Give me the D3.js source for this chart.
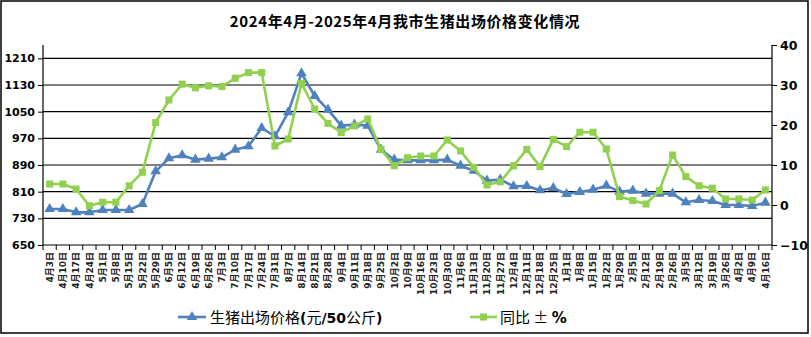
<!DOCTYPE html>
<html><head><meta charset="utf-8">
<script src="https://cdn.jsdelivr.net/npm/d3@7/dist/d3.min.js"></script>
<style>
html,body{margin:0;padding:0;background:#fff;}
svg{display:block;}
</style></head>
<body>
<svg id="c" width="811" height="337"></svg>
<script>
const dates = ["4月3日","4月10日","4月17日","4月24日","5月1日","5月8日","5月15日","5月22日","5月29日","6月5日","6月12日","6月19日","6月26日","7月3日","7月10日","7月17日","7月24日","7月31日","8月7日","8月14日","8月21日","8月28日","9月4日","9月11日","9月18日","9月25日","10月2日","10月9日","10月16日","10月23日","10月30日","11月6日","11月13日","11月20日","11月27日","12月4日","12月11日","12月18日","12月25日","1月1日","1月8日","1月15日","1月22日","1月29日","2月5日","2月12日","2月19日","2月26日","3月5日","3月12日","3月19日","3月26日","4月2日","4月9日","4月16日"];
const price = [758,758,748,748,755,755,755,773,871,910,919,906,909,913,936,946,1001,976,1048,1165,1097,1056,1008,1011,1008,936,906,904,904,904,906,888,873,843,846,826,827,814,821,803,809,816,828,810,813,804,804,804,778,785,782,770,770,767,777];
const yoy = [5.25,5.25,4,-0.2,0.7,0.7,4.8,8.2,20.6,26.25,30.2,29.3,29.8,29.6,31.7,33.1,33.1,14.75,16.5,30.4,24,20.4,18.1,19.8,21.5,13.9,9.8,11.8,12.25,12.25,16.25,13.5,9.4,5,5.8,9.8,13.9,9.6,16.4,14.6,18.2,18.2,14,2.1,1.1,0.25,3.6,12.5,7.1,4.8,4.2,1.5,1.5,1.25,3.75];
const leftTicks = [650,730,810,890,970,1050,1130,1210];
const rightTicks = [-10,0,10,20,30,40];
const title = "2024年4月-2025年4月我市生猪出场价格变化情况";

const svg = d3.select("#c");
const L = 43, R = 772, T = 45, B = 245;
const blue = "#4F81BD", green = "#92D050";

svg.append("rect").attr("x",1).attr("y",1).attr("width",807).attr("height",332)
  .attr("fill","none").attr("stroke","#000").attr("stroke-width",1.5);

svg.append("text").attr("x",405).attr("y",27).attr("text-anchor","middle")
  .attr("font-family","'Noto Sans CJK SC'").attr("font-size",15).attr("font-weight",700)
  .attr("letter-spacing",0.6).attr("fill","#000").text(title);

const x = d3.scaleBand().domain(dates).range([L,R]).padding(0);
const yL = d3.scaleLinear().domain([650,1250]).range([B,T]);
const yR = d3.scaleLinear().domain([-10,40]).range([B,T]);
const cx = d => x(d) + x.bandwidth()/2;

// gridlines
svg.append("g").selectAll("line").data(leftTicks.filter(t=>t>650)).join("line")
  .attr("x1",L).attr("x2",R).attr("y1",d=>yL(d)).attr("y2",d=>yL(d))
  .attr("stroke","#000").attr("stroke-width",1.2);

// left axis
const gl = svg.append("g").attr("transform",`translate(${L},0)`)
  .call(d3.axisLeft(yL).tickValues(leftTicks).tickFormat(d3.format("d")).tickSize(5).tickPadding(3));
gl.select(".domain").attr("d",`M0,${T}V${B}`).attr("stroke-width",1.2);
gl.selectAll("text").attr("font-family","'DejaVu Sans'").attr("font-weight","bold").attr("font-size",11).attr("fill","#000");

// right axis
const gr = svg.append("g").attr("transform",`translate(${R},0)`)
  .call(d3.axisRight(yR).tickValues(rightTicks).tickFormat(d3.format("d")).tickSize(5).tickPadding(3));
gr.select(".domain").attr("d",`M0,${T}V${B}`).attr("stroke-width",1.2);
gr.selectAll("text").attr("font-family","'DejaVu Sans'").attr("font-weight","bold").attr("font-size",12.5).attr("fill","#000");

// bottom axis
const gb = svg.append("g").attr("transform",`translate(0,${B})`)
  .call(d3.axisBottom(x).tickSize(0).tickFormat(""));
gb.select(".domain").attr("d",`M${L},0H${R}`).attr("stroke-width",1.2);
gb.selectAll(".tick").remove();
const bounds = dates.map(d=>x(d)).concat([R]);
svg.append("g").selectAll("line").data(bounds).join("line")
  .attr("x1",d=>d).attr("x2",d=>d).attr("y1",B).attr("y2",B+5)
  .attr("stroke","#000").attr("stroke-width",1);
svg.append("g").selectAll("text").data(dates).join("text")
  .attr("transform",d=>`translate(${cx(d)+3.3},252) rotate(-90)`)
  .attr("text-anchor","end")
  .attr("font-family","'DejaVu Sans','Noto Sans CJK SC'").attr("font-weight","bold").attr("font-size",9)
  .attr("fill","#222").text(d=>d);

// lines
const lineP = d3.line().x((d,i)=>cx(dates[i])).y(d=>yL(d));
const lineY = d3.line().x((d,i)=>cx(dates[i])).y(d=>yR(d));
const tri = d3.symbol().type(d3.symbolTriangle).size(48);
const sq = d3.symbol().type(d3.symbolSquare).size(50);

svg.append("path").datum(price).attr("d",lineP).attr("fill","none").attr("stroke",blue).attr("stroke-width",2.6).attr("stroke-linejoin","round");
svg.append("g").selectAll("path").data(price).join("path")
  .attr("transform",(d,i)=>`translate(${cx(dates[i])},${yL(d)})`).attr("d",tri).attr("fill",blue);

svg.append("path").datum(yoy).attr("d",lineY).attr("fill","none").attr("stroke",green).attr("stroke-width",2.6).attr("stroke-linejoin","round");
svg.append("g").selectAll("path").data(yoy).join("path")
  .attr("transform",(d,i)=>`translate(${cx(dates[i])},${yR(d)})`).attr("d",sq).attr("fill",green);

// legend
const lg = svg.append("g");
lg.append("line").attr("x1",178).attr("x2",206).attr("y1",317).attr("y2",317).attr("stroke",blue).attr("stroke-width",2.6);
lg.append("path").attr("transform","translate(192,317)").attr("d",tri).attr("fill",blue);
const t1 = lg.append("text").attr("x",210).attr("y",322.5).attr("font-family","'Noto Sans CJK SC'").attr("font-size",15).attr("fill","#000");
t1.append("tspan").text("生猪出场价格");
t1.append("tspan").attr("font-weight","bold").attr("font-family","'DejaVu Sans'").attr("font-size",14).text("(");
t1.append("tspan").text("元");
t1.append("tspan").attr("font-weight","bold").attr("font-family","'DejaVu Sans'").attr("font-size",14).text("/50");
t1.append("tspan").text("公斤");
t1.append("tspan").attr("font-weight","bold").attr("font-family","'DejaVu Sans'").attr("font-size",14).text(")");

lg.append("line").attr("x1",470).attr("x2",497).attr("y1",317).attr("y2",317).attr("stroke",green).attr("stroke-width",2.6);
lg.append("path").attr("transform","translate(483.5,317)").attr("d",sq).attr("fill",green);
const t2 = lg.append("text").attr("x",500).attr("y",322.5).attr("font-family","'Noto Sans CJK SC'").attr("font-size",15).attr("fill","#000");
t2.append("tspan").text("同比 ± ");
t2.append("tspan").attr("font-weight","bold").attr("font-family","'DejaVu Sans'").attr("font-size",15).text("%");
</script>
</body></html>
